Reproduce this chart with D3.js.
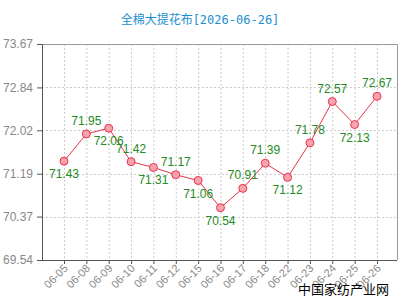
<!DOCTYPE html>
<html>
<head>
<meta charset="utf-8">
<script src="https://cdn.jsdelivr.net/npm/d3@7"></script>
<style>
  body { margin: 0; background: #fff; }
  svg { display: block; }
  .tick text { fill: #888; font-family: "Liberation Sans", Arial, sans-serif; }
</style>
</head>
<body>
<div id="chart"></div>
<script>
const dates = ['06-05', '06-08', '06-09', '06-10', '06-11', '06-12', '06-15', '06-16',
  '06-17', '06-18', '06-22', '06-23', '06-24', '06-25', '06-26'];
const prices = [71.43, 71.95, 72.06, 71.42, 71.31, 71.17, 71.06, 70.54,
  70.91, 71.39, 71.12, 71.78, 72.57, 72.13, 72.67];
// which side of the point each value label sits on
const labelSide = ['below', 'above', 'below', 'above', 'below', 'above', 'below', 'below',
  'above', 'above', 'below', 'above', 'above', 'below', 'above'];
const yTicks = [69.54, 70.37, 71.19, 72.02, 72.84, 73.67];

const width = 400;
const height = 300;
const plotLeft = 42, plotRight = 397, plotTop = 44, plotBottom = 260;

const svg = d3.select('#chart')
  .append('svg')
    .attr('width', width)
    .attr('height', height);

svg.append('text')
    .attr('x', 200)
    .attr('y', 24)
    .attr('text-anchor', 'middle')
    .attr('fill', '#1b8fcf')
    .style('font-family', '"DejaVu Sans Mono", "Noto Sans CJK SC", monospace')
    .style('font-size', '12px')
    .text('全棉大提花布[2026-06-26]');

const x = d3.scalePoint()
  .domain(dates)
  .range([64, 377]);

const y = d3.scaleLinear()
  .domain([yTicks[0], yTicks[yTicks.length - 1]])
  .range([plotBottom, plotTop]);

// grid
svg.append('g')
  .selectAll('line')
  .data(dates)
  .join('line')
    .attr('x1', d => x(d) + 0.5)
    .attr('x2', d => x(d) + 0.5)
    .attr('y1', plotTop)
    .attr('y2', plotBottom)
    .attr('stroke', '#ccc')
    .attr('stroke-dasharray', '2,2');

svg.append('g')
  .selectAll('line')
  .data(yTicks.slice(1, -1))
  .join('line')
    .attr('x1', plotLeft)
    .attr('x2', plotRight)
    .attr('y1', d => Math.round(y(d)) + 0.5)
    .attr('y2', d => Math.round(y(d)) + 0.5)
    .attr('stroke', '#ccc')
    .attr('stroke-dasharray', '2,2');

// frame top/right
svg.append('path')
    .attr('d', `M${plotLeft},${plotTop + 0.5}H${plotRight + 0.5}V${plotBottom}`)
    .attr('fill', 'none')
    .attr('stroke', '#999');

const yAxis = svg.append('g')
    .attr('transform', `translate(${plotLeft},0)`)
    .call(d3.axisLeft(y).tickValues(yTicks).tickFormat(d3.format('.2f')).tickSize(5).tickPadding(4));
yAxis.selectAll('text').style('font-size', '12px');

const xAxis = svg.append('g')
    .attr('transform', `translate(0,${plotBottom})`)
    .call(d3.axisBottom(x).tickSize(4).tickSizeOuter(0));
xAxis.select('.domain').attr('d', `M${plotLeft},0.5H${plotRight}`);
xAxis.selectAll('text')
    .style('font-size', '11px')
    .attr('text-anchor', 'end')
    .attr('dy', null)
    .attr('y', 0)
    .attr('transform', 'translate(4,9) rotate(-45)');

svg.selectAll('.domain, .tick line').attr('stroke', '#555');

const line = d3.line()
  .x((d, i) => x(dates[i]))
  .y(d => y(d));

svg.append('path')
    .datum(prices)
    .attr('d', line)
    .attr('fill', 'none')
    .attr('stroke', '#e8334a')
    .attr('stroke-width', 1);

svg.append('g')
  .selectAll('circle')
  .data(prices)
  .join('circle')
    .attr('cx', (d, i) => x(dates[i]))
    .attr('cy', d => y(d))
    .attr('r', 4)
    .attr('fill', '#f7a3ad')
    .attr('stroke', '#e8334a');

svg.append('g')
  .selectAll('text')
  .data(prices)
  .join('text')
    .attr('x', (d, i) => x(dates[i]))
    .attr('y', (d, i) => y(d) + (labelSide[i] === 'above' ? -9 : 17))
    .attr('text-anchor', 'middle')
    .attr('fill', '#238b23')
    .style('font-family', '"Liberation Sans", Arial, sans-serif')
    .style('font-size', '12px')
    .text(d => d.toFixed(2));

svg.append('text')
    .attr('x', 389)
    .attr('y', 294)
    .attr('text-anchor', 'end')
    .attr('fill', '#000')
    .style('font-family', '"Noto Sans CJK SC", sans-serif')
    .style('font-size', '13px')
    .text('中国家纺产业网');
</script>
</body>
</html>
